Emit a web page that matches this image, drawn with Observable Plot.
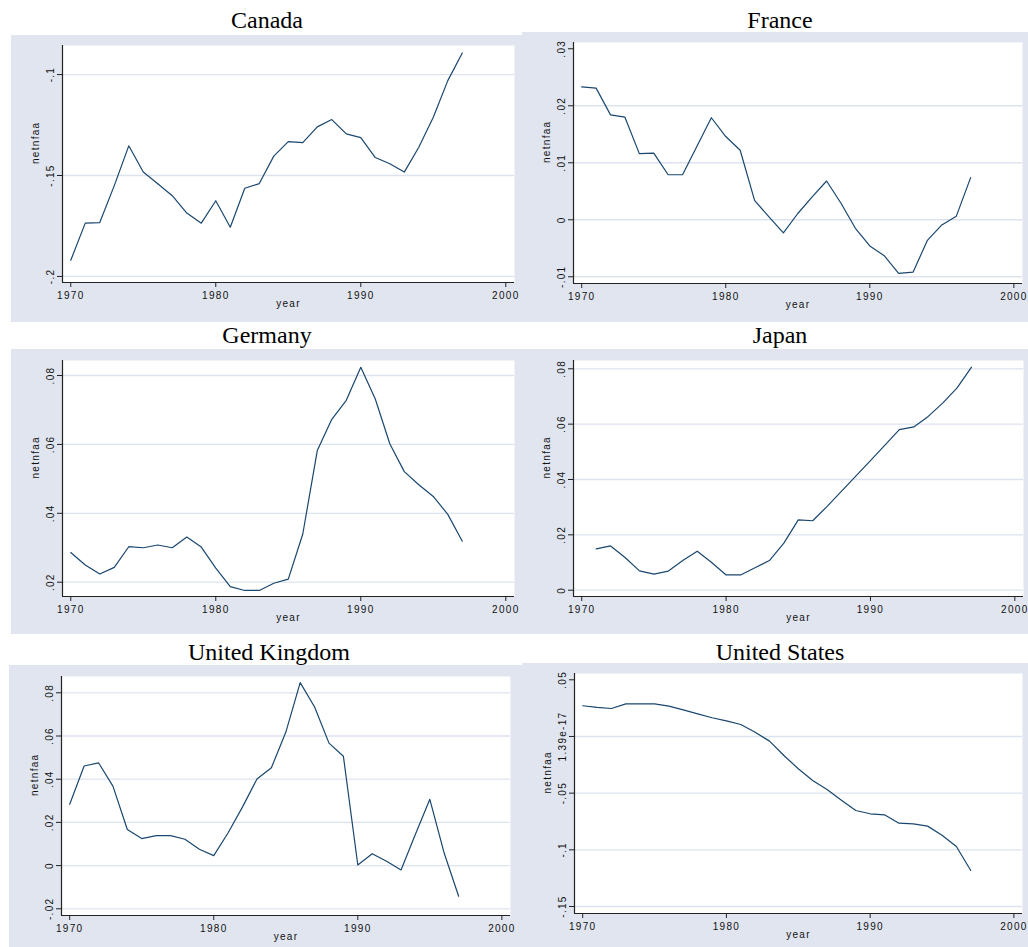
<!DOCTYPE html>
<html>
<head>
<meta charset="utf-8">
<script src="https://cdn.jsdelivr.net/npm/d3@7"></script>
<script src="https://cdn.jsdelivr.net/npm/@observablehq/plot@0.6"></script>
<style>
  html, body { margin: 0; padding: 0; background: #ffffff; }
  #root { position: relative; width: 1028px; height: 947px; overflow: hidden; background: #ffffff; }
  .panel { position: absolute; }
  .title { position: absolute; width: 320px; text-align: center; font-family: "Liberation Serif", "Times New Roman", serif; font-size: 24px; line-height: 24px; color: #000; white-space: nowrap; }
</style>
</head>
<body>
<div id="root"></div>
<script>
// ---------- data ----------
const countries = ["Canada", "France", "Germany", "Japan", "United Kingdom", "United States"];
const years = [1970,1971,1972,1973,1974,1975,1976,1977,1978,1979,1980,1981,1982,1983,1984,1985,1986,1987,1988,1989,1990,1991,1992,1993,1994,1995,1996,1997];
const japanYears = [1971,1972,1973,1974,1975,1976,1977,1978,1979,1980,1981,1982,1983,1984,1985,1986,1987,1988,1989,1990,1991,1992,1993,1994,1995,1996,1997];

const canada = [-0.192,-0.1736,-0.1733,-0.155,-0.1353,-0.1483,-0.1541,-0.160,-0.1686,-0.1736,-0.1625,-0.1756,-0.1563,-0.154,-0.1404,-0.1332,-0.1337,-0.1259,-0.1223,-0.1294,-0.1312,-0.1411,-0.1442,-0.1483,-0.136,-0.1211,-0.103,-0.0893];
const france = [0.0233,0.0231,0.0184,0.0180,0.0116,0.0117,0.0079,0.0079,0.0129,0.0179,0.0146,0.0122,0.0034,0.0005,-0.0023,0.0011,0.0040,0.0068,0.0029,-0.0015,-0.0046,-0.0063,-0.0094,-0.0092,-0.0036,-0.0009,0.0006,0.0074];
const germany = [0.0286,0.0250,0.0224,0.0243,0.0303,0.0300,0.0308,0.0300,0.0331,0.0302,0.0241,0.0187,0.0176,0.0176,0.0197,0.0209,0.0340,0.0582,0.0673,0.0728,0.0824,0.0732,0.0602,0.0521,0.0483,0.0449,0.0397,0.0319];
const japan = [0.0149,0.0160,0.0118,0.0070,0.0058,0.0069,0.0107,0.0141,0.0100,0.0055,0.0055,0.0081,0.0107,0.0170,0.0254,0.0251,0.0303,0.0358,0.0413,0.0468,0.0524,0.0580,0.0590,0.0628,0.0676,0.0731,0.0806];
const uk = [0.0284,0.0461,0.0476,0.0368,0.0167,0.0125,0.0139,0.0139,0.0122,0.0076,0.0046,0.0152,0.0272,0.0401,0.0453,0.0617,0.0847,0.0734,0.0567,0.0506,0.0003,0.0055,0.0020,-0.0020,0.0145,0.0307,0.0057,-0.0142];
const us = [0.0271,0.0256,0.0247,0.0288,0.0288,0.0288,0.0268,0.0235,0.0200,0.0165,0.0138,0.0106,0.0038,-0.0041,-0.0168,-0.0285,-0.0388,-0.0468,-0.0562,-0.0653,-0.0682,-0.0691,-0.0765,-0.0771,-0.0791,-0.0871,-0.0971,-0.1182];

const xTicks = [1970, 1980, 1990, 2000];
const xTickLabels = ["1970", "1980", "1990", "2000"];

const canadaTicks = [-0.2, -0.15, -0.1];
const canadaTickLabels = ["-.2", "-.15", "-.1"];
const franceTicks = [-0.01, 0, 0.01, 0.02, 0.03];
const franceTickLabels = ["-.01", "0", ".01", ".02", ".03"];
const germanyTicks = [0.02, 0.04, 0.06, 0.08];
const germanyTickLabels = [".02", ".04", ".06", ".08"];
const japanTicks = [0, 0.02, 0.04, 0.06, 0.08];
const japanTickLabels = ["0", ".02", ".04", ".06", ".08"];
const ukTicks = [-0.02, 0, 0.02, 0.04, 0.06, 0.08];
const ukTickLabels = ["-.02", "0", ".02", ".04", ".06", ".08"];
const usTicks = [-0.15, -0.1, -0.05, 0, 0.05];
const usTickLabels = ["-.15", "-.1", "-.05", "1.39e-17", ".05"];

const canadaGrid = [-0.2, -0.15, -0.1];
const franceGrid = [-0.01, 0, 0.01, 0.02];
const germanyGrid = [0.02, 0.04, 0.06, 0.08];
const japanGrid = [0, 0.02, 0.04, 0.06, 0.08];
const ukGrid = [-0.02, 0, 0.02, 0.04, 0.06, 0.08];
const usGrid = [-0.15, -0.1, -0.05, 0];

const xLabel = "year";
const yLabel = "netnfaa";

// ---------- style ----------
const BG = "#e0e5ef";
const GRID = "#dde3ee";
const NAVY = "#1a476f";
const AXIS = "#222222";
const xDomain = [1969.43, 2000.6];

const panels = [
  {name: countries[0], x: years, v: canada, ticks: canadaTicks, labels: canadaTickLabels, grid: canadaGrid, yDomain: [-0.2030, -0.0856],
   box: {left: 11, top: 35, w: 511, h: 287, ml: 51, mt: 10, mr: 8, mb: 40}, title: {cx: 267, base: 28}},
  {name: countries[1], x: years, v: france, ticks: franceTicks, labels: franceTickLabels, grid: franceGrid, yDomain: [-0.01118, 0.0311],
   box: {left: 522, top: 32, w: 506, h: 290, ml: 51, mt: 10, mr: 6, mb: 39}, title: {cx: 780, base: 28}},
  {name: countries[2], x: years, v: germany, ticks: germanyTicks, labels: germanyTickLabels, grid: germanyGrid, yDomain: [0.01585, 0.08436],
   box: {left: 11, top: 349, w: 511, h: 285, ml: 51, mt: 11, mr: 8, mb: 38}, title: {cx: 267, base: 343}},
  {name: countries[3], x: japanYears, v: japan, ticks: japanTicks, labels: japanTickLabels, grid: japanGrid, yDomain: [-0.00228, 0.0830],
   box: {left: 522, top: 349, w: 506, h: 285, ml: 51, mt: 11, mr: 5, mb: 38}, title: {cx: 780, base: 343}},
  {name: countries[4], x: years, v: uk, ticks: ukTicks, labels: ukTickLabels, grid: ukGrid, yDomain: [-0.0231, 0.08755],
   box: {left: 9, top: 665, w: 513, h: 282, ml: 52, mt: 11, mr: 12, mb: 32}, title: {cx: 269, base: 660}},
  {name: countries[5], x: years, v: us, ticks: usTicks, labels: usTickLabels, grid: usGrid, yDomain: [-0.15618, 0.05556],
   box: {left: 522, top: 663, w: 506, h: 284, ml: 52, mt: 10, mr: 6, mb: 34}, title: {cx: 780, base: 660}}
];

const root = document.getElementById("root");

for (const p of panels) {
  const data = p.x.map((yr, i) => ({year: yr, value: p.v[i]}));
  const b = p.box;
  const chart = Plot.plot({
    width: b.w,
    height: b.h,
    marginLeft: b.ml,
    marginTop: b.mt,
    marginRight: b.mr,
    marginBottom: b.mb,
    style: {
      background: BG,
      fontFamily: "'Liberation Sans', Arial, Helvetica, sans-serif",
      fontSize: "10px",
      letterSpacing: "1.3px",
      color: "#111",
      overflow: "visible"
    },
    x: {domain: xDomain},
    y: {domain: p.yDomain},
    marks: [
      Plot.frame({fill: "white", stroke: null}),
      Plot.ruleY(p.grid, {stroke: GRID, strokeWidth: 1.3}),
      Plot.line(data, {x: "year", y: "value", stroke: NAVY, strokeWidth: 1.2}),
      Plot.ruleX([xDomain[0]], {stroke: AXIS, strokeWidth: 1.2}),
      Plot.ruleY([p.yDomain[0]], {stroke: AXIS, strokeWidth: 1.2}),
      Plot.axisX({
        ticks: xTicks, tickSize: 5, tickPadding: 4.5,
        tickFormat: d => xTickLabels[xTicks.indexOf(d)],
        label: null, stroke: AXIS
      }),
      Plot.axisY({
        ticks: p.ticks, tickSize: 5, tickPadding: 4, tickRotate: -90,
        tickFormat: d => p.labels[p.ticks.indexOf(d)],
        label: null, stroke: AXIS
      }),
      Plot.text([xLabel], {text: d => d, frameAnchor: "bottom", lineAnchor: "bottom", dy: 24, fill: "#111"}),
      Plot.text([yLabel], {text: d => d, frameAnchor: "left", lineAnchor: "bottom", rotate: -90, dx: -23.5, fill: "#111"})
    ]
  });
  const holder = document.createElement("div");
  holder.className = "panel";
  holder.style.left = b.left + "px";
  holder.style.top = b.top + "px";
  holder.appendChild(chart);
  root.appendChild(holder);

  const t = document.createElement("div");
  t.className = "title";
  t.textContent = p.name;
  t.style.left = (p.title.cx - 160) + "px";
  t.style.top = (p.title.base - 20) + "px";
  root.appendChild(t);
}
</script>
</body>
</html>
